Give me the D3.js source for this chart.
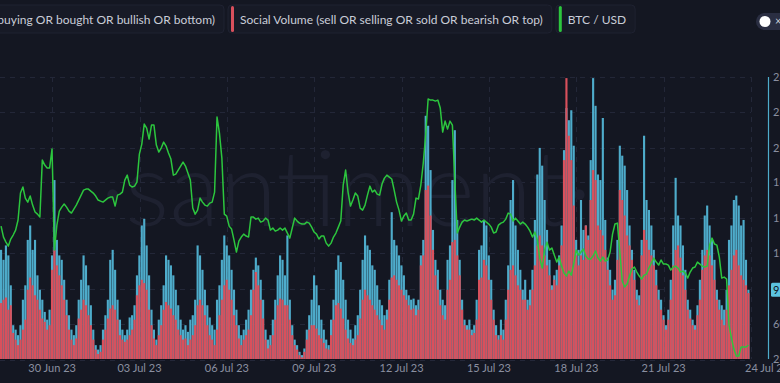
<!DOCTYPE html>
<html>
<head>
<meta charset="utf-8">
<script src="https://cdn.jsdelivr.net/npm/d3@7"></script>
<style>
  html, body { margin: 0; padding: 0; background: #141722; overflow: hidden; }
  svg { display: block; font-family: Lato, "Noto Sans", sans-serif; }
</style>
</head>
<body>
<svg id="chart" width="780" height="383"></svg>
<script>
// 2-hour buckets, first one starts 28 Jun 2023 05:00 UTC
const START = Date.UTC(2023, 5, 28, 5);
const END = Date.UTC(2023, 6, 24, 0);
const STEP = 2 * 3600 * 1000;

// Social Volume (buy OR buying OR bought OR bullish OR bottom)
const bullVolume = [
  127,118,131,122,95,59,55,50,59,82,
  95,136,149,127,136,104,91,82,71,64,
  73,122,190,136,122,118,100,82,68,55,
  50,59,82,100,122,113,95,77,55,41,
  37,41,55,68,82,118,127,109,82,64,
  55,50,55,66,68,77,104,122,149,155,
  131,104,73,55,46,64,77,95,122,118,
  113,104,91,77,64,55,59,53,64,68,
  82,131,122,109,91,77,66,59,55,82,
  95,118,140,131,122,109,91,73,59,50,
  55,64,73,91,109,120,113,100,82,55,
  46,50,64,82,104,122,118,104,140,82,
  59,46,41,35,32,38,55,68,82,104,
  95,77,64,55,46,41,64,82,109,122,
  116,100,82,64,55,47,59,68,91,118,
  140,131,127,113,109,95,82,77,68,73,
  100,161,136,131,122,113,104,91,86,82,
  83,77,82,122,136,248,239,199,145,118,
  109,91,82,77,118,131,190,235,154,118,
  82,64,59,64,55,59,82,127,131,154,
  149,122,100,73,59,50,64,55,82,113,
  172,190,149,127,109,91,100,82,91,109,
  154,195,219,203,172,145,118,95,104,109,
  122,149,217,255,244,253,221,136,127,172,
  145,149,140,208,282,257,195,190,246,154,
  120,109,91,100,136,221,212,203,181,149,
  127,109,91,86,136,230,172,163,149,127,
  109,91,82,68,59,73,100,149,192,158,
  149,131,109,82,73,64,59,77,100,127,
  158,167,149,136,118,91,82,77,73,91,
  136,149,172,176,167,149,154,118,91
];

// Social Volume (sell OR selling OR sold OR bearish OR top)
const bearVolume = [
  79,82,84,73,77,52,46,41,46,55,
  64,91,102,95,86,82,73,65,62,55,
  59,109,127,113,104,95,82,68,55,46,
  41,47,65,73,82,77,68,59,46,37,
  33,35,46,55,65,74,77,73,64,50,
  46,44,46,50,55,64,86,95,100,97,
  91,73,59,47,41,50,59,73,80,77,
  74,68,64,55,50,46,47,41,46,50,
  59,77,82,77,68,59,50,46,41,55,
  68,82,95,100,91,82,68,59,47,41,
  46,50,55,68,91,107,95,82,65,46,
  38,41,50,64,77,83,82,77,77,64,
  50,41,37,32,30,35,46,55,59,59,
  56,50,47,43,38,37,50,64,77,79,
  74,65,55,47,43,41,46,50,65,82,
  91,86,82,77,73,68,64,59,55,64,
  82,102,104,100,95,91,86,82,77,73,
  74,68,73,113,122,181,185,158,127,104,
  91,77,68,64,91,100,134,136,122,104,
  73,59,55,55,50,52,64,100,102,118,
  113,100,82,64,50,46,50,46,64,91,
  109,113,104,95,91,82,82,73,77,91,
  113,131,140,131,122,113,104,91,100,95,
  113,131,208,282,230,208,167,122,113,122,
  118,149,136,172,199,190,149,145,140,127,
  109,95,82,86,118,181,172,158,140,131,
  118,100,82,77,122,145,136,127,122,113,
  95,82,73,64,55,64,82,113,127,131,
  120,104,91,73,65,59,55,68,82,109,
  122,127,122,113,100,82,73,64,59,73,
  95,109,122,127,113,104,100,95,88
];

// BTC / USD
const btcPrice = [
  30356,30249,30200,30161,30230,30269,30317,30415,30678,30737,
  30629,30590,30649,30561,30493,30473,30444,31000,30951,30922,
  30922,31107,30122,30366,30502,30541,30571,30541,30502,30483,
  30522,30561,30610,30658,30707,30717,30717,30697,30678,30649,
  30610,30600,30590,30610,30629,30639,30639,30551,30658,30668,
  30688,30805,30853,30756,30737,30746,30785,31058,31156,31351,
  31312,31205,31341,31341,31146,31078,31117,31175,31136,31068,
  31010,30853,30863,30902,30941,30980,30941,30873,30805,30532,
  30473,30512,30629,30590,30561,30551,30580,30590,30688,31419,
  31263,31019,30473,30454,30356,30327,30220,30103,30210,30249,
  30278,30259,30249,30444,30444,30424,30434,30395,30405,30434,
  30415,30317,30337,30307,30317,30337,30317,30337,30288,30239,
  30337,30434,30405,30385,30376,30376,30395,30385,30346,30298,
  30278,30230,30259,30259,30190,30161,30190,30249,30288,30346,
  30405,30756,30902,30688,30551,30610,30678,30649,30532,30512,
  30561,30658,30746,30688,30707,30668,30658,30766,30824,30853,
  30834,30815,30707,30590,30512,30405,30454,30483,30415,30415,
  30473,30629,30620,30756,30971,31244,31595,31585,31585,31575,
  31585,31507,31273,31380,31302,31380,31341,30805,30288,30346,
  30395,30415,30405,30415,30424,30415,30434,30415,30395,30415,
  30395,30376,30346,30288,30298,30366,30385,30395,30424,30483,
  30473,30405,30434,30405,30376,30395,30376,30346,30307,30249,
  30298,30220,30044,29947,30122,30200,30122,30142,30073,30005,
  30054,29966,29898,29869,29917,29878,29986,30122,30073,30103,
  30132,30064,30035,30035,30064,30113,30044,30015,30054,30015,
  30025,30103,30278,30376,30385,30103,29820,29762,29791,29869,
  29937,29957,29908,29869,29840,29878,29888,29947,29996,30044,
  30005,29976,30025,29986,29986,29976,29927,29957,29966,29947,
  29908,29917,29898,29849,29908,29947,29957,30005,29986,29966,
  29957,29966,30171,30239,30181,30171,30054,29849,29859,29840,
  29391,29264,29157,29089,29089,29177,29177,29177,29196
];

const volumeTicks = [28, 60, 92, 124, 156, 188, 219, 251, 283];
const dateTicks = ["2023-06-30", "2023-07-03", "2023-07-06", "2023-07-09", "2023-07-12",
                   "2023-07-15", "2023-07-18", "2023-07-21", "2023-07-24"];
const lastVolume = 91;
const legendLabels = [
  "Social Volume (buy OR buying OR bought OR bullish OR bottom)",
  "Social Volume (sell OR selling OR sold OR bearish OR top)",
  "BTC / USD"
];

const BLUE = "#4eaccb";
const RED = "#d9505c";
const GREEN = "#2cc63e";
const GRID = "#232738";
const LABEL = "#8a8fa0";

const svg = d3.select("#chart");
const plotLeft = 0, plotRight = 751, plotTop = 77, plotBottom = 359;

const x = d3.scaleUtc().domain([START, END]).range([plotLeft, plotRight]);
const yVol = d3.scaleLinear().domain([28.5, 283]).range([plotBottom, plotTop]);
const yBtc = d3.scaleLinear().domain([29060, 31810]).range([plotBottom, plotTop]);

svg.append("rect").attr("width", 780).attr("height", 383).attr("fill", "#141722");

// grid
const grid = svg.append("g");
grid.selectAll("line.h").data(volumeTicks).enter().append("line")
  .attr("x1", 0).attr("x2", plotRight)
  .attr("y1", d => Math.round(yVol(d)) + 0.5).attr("y2", d => Math.round(yVol(d)) + 0.5)
  .attr("stroke", GRID).attr("stroke-dasharray", "5,5");
grid.selectAll("line.v").data(dateTicks).enter().append("line")
  .attr("x1", d => Math.round(x(new Date(d))) + 0.5).attr("x2", d => Math.round(x(new Date(d))) + 0.5)
  .attr("y1", plotTop).attr("y2", plotBottom)
  .attr("stroke", GRID).attr("stroke-dasharray", "5,5");

// watermark
svg.append("text")
  .attr("x", 346).attr("y", 226)
  .attr("text-anchor", "middle")
  .attr("font-size", 104).attr("font-weight", 300)
  .attr("fill", "#1e2130")
  .text("·santiment·");

const barX = i => x(START + i * STEP);
const barW = x(START + STEP) - x(START) - 0.3;

svg.append("g").selectAll("rect").data(bullVolume).enter().append("rect")
  .attr("x", (d, i) => barX(i))
  .attr("y", d => yVol(d))
  .attr("width", barW)
  .attr("height", d => Math.max(0, plotBottom - yVol(d)))
  .attr("fill", BLUE);

svg.append("g").selectAll("rect").data(bearVolume).enter().append("rect")
  .attr("x", (d, i) => barX(i))
  .attr("y", d => yVol(d))
  .attr("width", barW)
  .attr("height", d => Math.max(0, plotBottom - yVol(d)))
  .attr("fill", RED);

const line = d3.line()
  .x((d, i) => barX(i) + barW / 2)
  .y(d => yBtc(d));
svg.append("path").datum(btcPrice)
  .attr("d", line)
  .attr("fill", "none")
  .attr("stroke", GREEN)
  .attr("stroke-width", 1.5)
  .attr("stroke-linejoin", "round");

// bottom axis
svg.append("line").attr("x1", 0).attr("x2", 748).attr("y1", plotBottom + 0.5).attr("y2", plotBottom + 0.5)
  .attr("stroke", "#0f111a");
const fmt = d3.utcFormat("%d %b %y");
svg.append("g").selectAll("text").data(dateTicks).enter().append("text")
  .attr("x", (d, i) => i === dateTicks.length - 1 ? x(new Date(d)) - 6 : x(new Date(d)))
  .attr("y", 372)
  .attr("text-anchor", (d, i) => i === dateTicks.length - 1 ? "start" : "middle")
  .attr("font-size", 11).attr("fill", LABEL)
  .text(d => fmt(new Date(d)));

// right axis (bull volume)
svg.append("line").attr("x1", 768.5).attr("x2", 768.5).attr("y1", plotTop).attr("y2", plotBottom)
  .attr("stroke", BLUE).attr("stroke-width", 1.2);
svg.append("g").selectAll("text").data(volumeTicks).enter().append("text")
  .attr("x", 773).attr("y", d => yVol(d)).attr("dy", "0.35em")
  .attr("font-size", 11).attr("fill", LABEL)
  .text(d => d);
svg.append("rect").attr("x", 771).attr("y", yVol(lastVolume) - 7).attr("width", 30).attr("height", 14)
  .attr("rx", 1.5).attr("fill", "#5cc3df");
svg.append("text").attr("x", 773).attr("y", yVol(lastVolume)).attr("dy", "0.35em")
  .attr("font-size", 11).attr("fill", "#10131b").text(lastVolume);

// legend
const legendColors = [BLUE, RED, GREEN];
const legend = svg.append("g");
const items = legendLabels.map((label, i) => {
  const g = legend.append("g");
  const box = g.append("rect").attr("y", 5).attr("height", 28).attr("rx", 4)
    .attr("fill", "#171a26").attr("stroke", "#1f2231");
  const mark = g.append("rect").attr("y", 6).attr("width", 3).attr("height", 26).attr("rx", 1.5)
    .attr("fill", legendColors[i]);
  const txt = g.append("text").attr("y", 24).attr("font-size", 12).attr("fill", "#c9cdd8").text(label);
  const w = 12 + txt.node().getComputedTextLength() + 9;
  return { box, mark, txt, w };
});
let bx = 224 - items[0].w;
items.forEach(it => {
  it.box.attr("x", bx).attr("width", it.w);
  it.mark.attr("x", bx + 3);
  it.txt.attr("x", bx + 12);
  bx += it.w + 4;
});

// toggle at top right
svg.append("rect").attr("x", 756).attr("y", 13).attr("width", 40).attr("height", 17).attr("rx", 8.5)
  .attr("fill", "#2a2e42");
svg.append("circle").attr("cx", 765).attr("cy", 21.5).attr("r", 5.5).attr("fill", "#ffffff");
svg.append("text").attr("x", 775).attr("y", 25).attr("font-size", 11).attr("fill", "#c9cdd8").text("×");
</script>
</body>
</html>
